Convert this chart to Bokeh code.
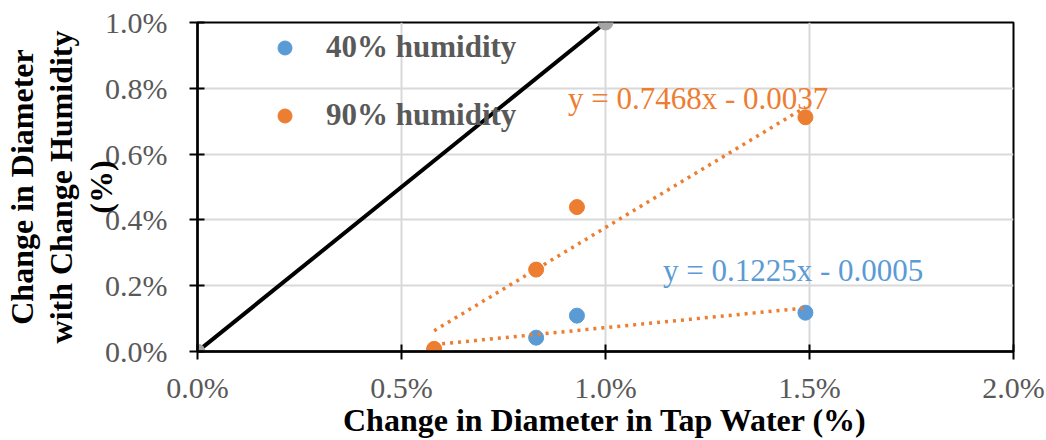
from bokeh.plotting import figure
from bokeh.models import (Range1d, NumeralTickFormatter, FixedTicker, Label,
                          Legend, LegendItem)
from bokeh.embed import file_html
from bokeh.resources import INLINE

# Diameter change in tap water (fraction) for each specimen
tap_change = [0.0058, 0.0083, 0.0093, 0.0149]
# Diameter change with humidity change (fraction)
hum40_change = [0.00003, 0.00042, 0.00109, 0.00118]
hum90_change = [0.00008, 0.00249, 0.00439, 0.00712]

# Linear trend fits (y = a*x + b)
fit40 = (0.1225, -0.0005)
fit90 = (0.7468, -0.0037)

# 1:1 reference line
ref_x = [0.0, 0.01]
ref_y = [0.0, 0.01]

x_ticks = [0.0, 0.005, 0.01, 0.015, 0.02]
y_ticks = [0.0, 0.002, 0.004, 0.006, 0.008, 0.01]

BLUE = "#5b9bd5"
ORANGE = "#ed7d31"
GREY = "#a5a5a5"
TEXT_GREY = "#595959"
FONT = "Liberation Serif"

p = figure(width=1046, height=440, output_backend="svg", toolbar_location=None,
           x_range=Range1d(0, 0.02), y_range=Range1d(0, 0.01),
           min_border_left=196, min_border_right=33,
           min_border_top=22, min_border_bottom=88)

p.outline_line_color = "black"
p.outline_line_width = 2
p.background_fill_color = "white"

for ax in (p.xaxis[0], p.yaxis[0]):
    ax.axis_line_color = "black"
    ax.axis_line_width = 2.5
    ax.major_tick_line_color = "black"
    ax.major_tick_line_width = 2
    ax.major_tick_out = 8
    ax.major_tick_in = 7
    ax.minor_tick_line_color = None
    ax.major_label_text_font = FONT
    ax.major_label_text_font_size = "30px"
    ax.major_label_text_color = TEXT_GREY
    ax.formatter = NumeralTickFormatter(format="0.0%")
    ax.axis_label_text_font = FONT
    ax.axis_label_text_font_size = "32px"
    ax.axis_label_text_font_style = "bold"
    ax.axis_label_text_color = "black"

p.xaxis.ticker = FixedTicker(ticks=x_ticks)
p.yaxis.ticker = FixedTicker(ticks=y_ticks)
p.xaxis.major_label_standoff = 11
p.yaxis.major_label_standoff = 22

p.xaxis.axis_label = "Change in Diameter in Tap Water (%)"
p.xaxis.axis_label_standoff = -5
p.yaxis.axis_label = "Change in Diameter\nwith Change Humidity\n(%)"
p.yaxis.axis_label_standoff = -17
p.yaxis.axis_label_text_line_height = 1.1

p.xgrid.ticker = FixedTicker(ticks=x_ticks)
p.ygrid.ticker = FixedTicker(ticks=y_ticks)
for g in (p.xgrid[0], p.ygrid[0]):
    g.grid_line_color = "#d9d9d9"
    g.grid_line_width = 2

# 1:1 line with its end markers
p.line(ref_x, ref_y, line_color="black", line_width=4)
p.scatter(ref_x, ref_y, size=15, fill_color=GREY, line_color=GREY)

r40 = p.scatter(tap_change, hum40_change, size=15, fill_color=BLUE, line_color=BLUE)
r90 = p.scatter(tap_change, hum90_change, size=15, fill_color=ORANGE, line_color=ORANGE)

# Trend lines over the measured range
x_lo, x_hi = min(tap_change), max(tap_change)
for a, b in (fit40, fit90):
    xs = [x_lo, x_hi]
    ys = [a * x + b for x in xs]
    p.line(xs, ys, line_color=ORANGE, line_width=3.5, line_dash="3 5")

# Trend equations
p.add_layout(Label(x=0.009082, y=0.00770, text="y = %.4fx - %.4f" % (fit90[0], -fit90[1]),
                   text_font=FONT, text_font_size="31px", text_color=ORANGE,
                   text_baseline="alphabetic"))
p.add_layout(Label(x=0.011408, y=0.00245, text="y = %.4fx - %.4f" % (fit40[0], -fit40[1]),
                   text_font=FONT, text_font_size="31px", text_color=BLUE,
                   text_baseline="alphabetic"))

legend = Legend(items=[LegendItem(label="40% humidity", renderers=[r40]),
                       LegendItem(label="90% humidity", renderers=[r90])],
                location=(70, 218), orientation="vertical",
                label_text_font=FONT, label_text_font_style="bold",
                label_text_font_size="31px", label_text_color=TEXT_GREY,
                border_line_color=None, background_fill_alpha=0,
                padding=0, margin=0, spacing=32, label_standoff=24,
                glyph_width=35, glyph_height=35, label_height=35)
p.add_layout(legend)

open("out.html", "w").write(file_html(p, INLINE))
